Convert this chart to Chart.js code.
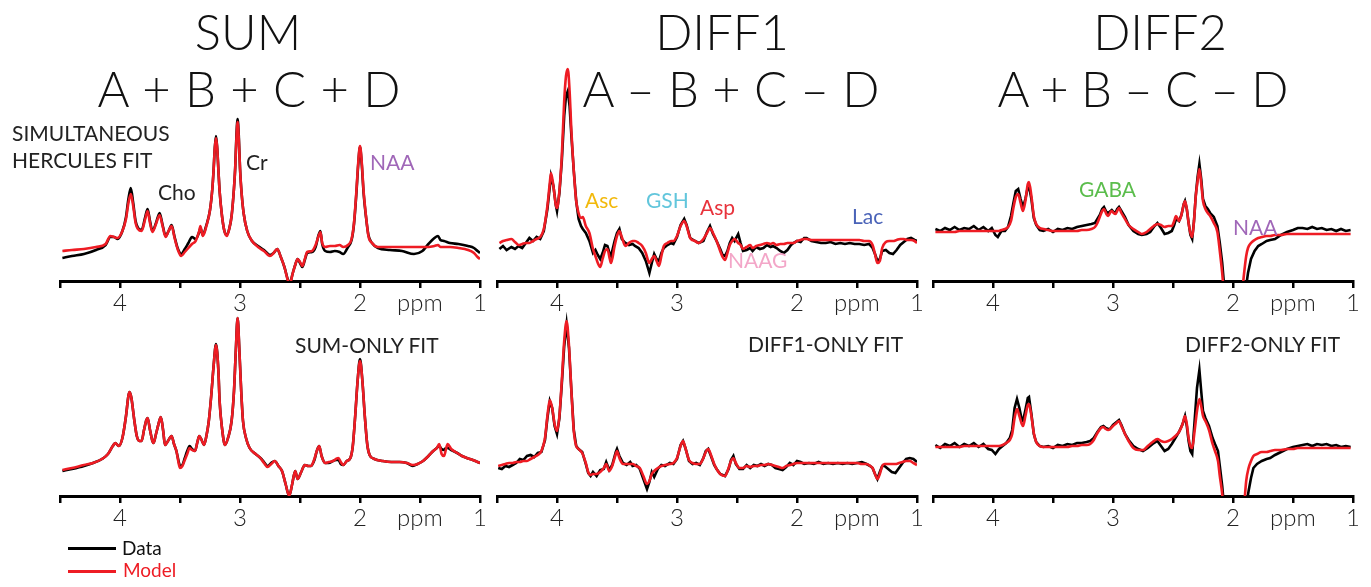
<!DOCTYPE html>
<html>
<head>
<meta charset="utf-8">
<script src="https://cdn.jsdelivr.net/npm/chart.js@4.4.1/dist/chart.umd.min.js"></script>
<style>
  html, body { margin:0; padding:0; background:#fff; overflow:hidden; }
  body { width:1371px; height:587px; position:relative; font-family: Lato, "Open Sans", sans-serif; color:#222; }
  canvas.p { position:absolute; }
  .t { position:absolute; white-space:nowrap; line-height:1; font-size:21px; color:#222; }
  .title { position:absolute; white-space:nowrap; line-height:1; font-size:49px; font-weight:300; color:#111; width:500px; text-align:center; }
  .lg { position:absolute; height:3px; width:48px; }
</style>
</head>
<body>
<canvas class="p" id="c1" width="456" height="282" style="left:40px;top:39px"></canvas>
<canvas class="p" id="c2" width="456" height="282" style="left:477px;top:39px"></canvas>
<canvas class="p" id="c3" width="456" height="282" style="left:913px;top:39px"></canvas>
<canvas class="p" id="c4" width="456" height="240" style="left:40px;top:296px"></canvas>
<canvas class="p" id="c5" width="456" height="240" style="left:477px;top:296px"></canvas>
<canvas class="p" id="c6" width="456" height="240" style="left:913px;top:296px"></canvas>

<div class="title" style="left:-2px;top:7px">SUM</div>
<div class="title" style="left:-1px;top:64px;word-spacing:1px">A + B + C + D</div>
<div class="title" style="left:472px;top:7px">DIFF1</div>
<div class="title" style="left:481px;top:64px;word-spacing:0px">A – B + C – D</div>
<div class="title" style="left:910px;top:7px">DIFF2</div>
<div class="title" style="left:893px;top:64px;word-spacing:-1px">A + B – C – D</div>

<div class="t" style="left:12px;top:122px">SIMULTANEOUS</div>
<div class="t" style="left:12px;top:149px">HERCULES FIT</div>
<div class="t" style="left:158px;top:181px">Cho</div>
<div class="t" style="left:246px;top:151px">Cr</div>
<div class="t" style="left:370px;top:151px;color:#a067b8">NAA</div>
<div class="t" style="left:585px;top:189px;color:#f2b90c">Asc</div>
<div class="t" style="left:646px;top:189px;color:#62c6dc">GSH</div>
<div class="t" style="left:700px;top:196px;color:#e8333c">Asp</div>
<div class="t" style="left:728px;top:249px;color:#f3a6c8">NAAG</div>
<div class="t" style="left:852px;top:205px;color:#4a63b8">Lac</div>
<div class="t" style="left:1079px;top:178px;color:#5bbd4c">GABA</div>
<div class="t" style="left:1233px;top:216px;color:#a067b8">NAA</div>
<div class="t" style="left:295px;top:334px">SUM-ONLY FIT</div>
<div class="t" style="left:748px;top:333px">DIFF1-ONLY FIT</div>
<div class="t" style="left:1185px;top:333px">DIFF2-ONLY FIT</div>

<div class="lg" style="left:68px;top:547px;background:#000"></div>
<div class="t" style="left:122px;top:538px;font-size:19px;color:#111">Data</div>
<div class="lg" style="left:68px;top:570px;background:#ee1c24"></div>
<div class="t" style="left:123px;top:560px;font-size:19px;color:#ee1c24">Model</div>

<script>
// ---------- DATA (heights in arbitrary units above each panel's baseline) ----------
// Panel: SUM, simultaneous HERCULES fit
const sumSimPpm   = [4.48,4.40,4.30,4.20,4.12,4.08,4.05,4.02,3.98,3.95,3.93,3.91,3.89,3.87,3.85,3.82,3.79,3.77,3.75,3.73,3.70,3.67,3.645,3.62,3.595,3.57,3.545,3.52,3.49,3.46,3.43,3.40,3.37,3.34,3.33,3.31,3.28,3.25,3.23,3.22,3.21,3.20,3.19,3.18,3.17,3.15,3.13,3.11,3.09,3.07,3.05,3.04,3.03,3.02,3.01,3.00,2.99,2.97,2.94,2.90,2.85,2.80,2.75,2.72,2.69,2.66,2.63,2.60,2.585,2.56,2.54,2.52,2.50,2.48,2.46,2.44,2.40,2.37,2.345,2.33,2.315,2.29,2.25,2.21,2.17,2.14,2.10,2.07,2.05,2.03,2.015,2.00,1.985,1.97,1.95,1.93,1.90,1.85,1.75,1.65,1.55,1.48,1.43,1.38,1.35,1.33,1.30,1.25,1.18,1.10,1.05,1.02,1.00];
const sumSimModel = [30,31,32,34,37,45,44,43,50,62,78,87,75,58,52,50,62,70,58,49,57,66,55,44,50,55,43,32,25,29,33,37,40,50,55,45,55,71,93,111,133,143,133,111,90,65,50,45,52,65,93,113,142,159,142,113,93,68,50,40,34,30,25,28,32,24,14,0,-3,8,16,22,19,15,22,29,30,36,45,49,38,34,35,35,36,34,36,42,58,90,118,135,118,90,65,45,38,34,34,34,34,34,34,35,36,34,34,34,33,31,28,24,22];
const sumSimData  = [23,25,27,31,36,44,44,42,50,64,82,93,78,60,53,51,64,72,60,50,58,68,56,45,50,56,44,33,27,32,38,44,42,49,53,46,56,71,93,111,133,145,133,111,90,65,50,46,52,65,93,113,145,162,145,113,93,68,50,40,35,31,26,28,32,24,14,1,-2,8,16,22,18,14,21,28,29,34,46,50,37,30,29,30,29,27,34,41,57,88,116,134,116,88,64,46,38,33,31,30,27,30,37,43,45,41,40,38,37,35,33,30,28];

// Panel: DIFF1, simultaneous HERCULES fit
const diff1SimPpm   = [4.48,4.45,4.42,4.38,4.35,4.32,4.29,4.26,4.23,4.20,4.17,4.14,4.11,4.08,4.06,4.05,4.03,4.01,4.00,3.98,3.96,3.94,3.925,3.91,3.895,3.88,3.86,3.84,3.82,3.80,3.785,3.76,3.73,3.70,3.68,3.66,3.64,3.62,3.60,3.58,3.56,3.55,3.52,3.50,3.48,3.46,3.43,3.40,3.37,3.35,3.32,3.29,3.26,3.24,3.23,3.21,3.19,3.17,3.15,3.13,3.11,3.08,3.05,3.03,3.00,2.97,2.94,2.92,2.89,2.85,2.82,2.78,2.75,2.725,2.70,2.67,2.64,2.62,2.60,2.58,2.56,2.54,2.52,2.49,2.47,2.45,2.42,2.39,2.37,2.34,2.31,2.28,2.25,2.22,2.20,2.17,2.14,2.11,2.08,2.05,2.03,2.00,1.97,1.94,1.92,1.88,1.84,1.80,1.76,1.72,1.68,1.64,1.60,1.56,1.52,1.48,1.44,1.40,1.37,1.35,1.33,1.31,1.29,1.26,1.23,1.20,1.17,1.14,1.11,1.08,1.05,1.02,1.00];
const diff1SimModel = [38,40,41,42,39,36,37,38,38,40,42,44,52,75,98,108,95,76,73,90,125,180,205,212,190,150,110,80,68,63,64,55,48,32,25,18,14,22,30,32,22,18,35,45,50,44,35,38,40,40,38,35,28,20,18,22,25,20,15,25,35,38,40,40,45,55,60,55,43,40,38,42,48,53,48,40,30,24,21,28,36,40,42,38,36,32,34,36,33,35,36,37,38,37,38,36,37,37,38,38,38,40,41,42,42,41,41,41,41,41,41,41,41,41,41,41,40,40,36,27,18,20,33,39,40,40,41,42,42,41,41,40,38];
const diff1SimData  = [32,35,31,34,32,35,33,38,43,40,44,42,50,72,94,105,95,76,70,88,120,165,185,190,175,145,110,80,62,55,52,48,40,28,31,26,22,28,36,35,27,25,40,48,52,42,38,36,37,35,33,28,20,12,8,18,27,22,20,28,33,36,38,37,44,56,62,56,43,40,38,40,49,55,47,40,32,26,25,30,38,43,40,47,38,30,31,33,30,34,32,33,36,34,35,33,30,28,31,36,38,40,39,43,43,40,39,38,38,39,37,38,37,38,37,37,36,37,33,27,20,22,30,31,28,27,31,36,39,42,43,41,40];

// Panel: DIFF2, simultaneous HERCULES fit
const diff2SimPpm   = [4.48,4.44,4.40,4.36,4.32,4.28,4.24,4.20,4.16,4.12,4.08,4.04,4.01,3.98,3.96,3.93,3.90,3.875,3.85,3.83,3.81,3.79,3.77,3.75,3.73,3.71,3.70,3.68,3.66,3.64,3.61,3.58,3.54,3.50,3.46,3.42,3.38,3.34,3.30,3.26,3.22,3.18,3.15,3.13,3.11,3.09,3.075,3.055,3.04,3.02,3.01,2.995,2.98,2.965,2.95,2.93,2.90,2.87,2.83,2.79,2.76,2.72,2.69,2.66,2.63,2.60,2.57,2.54,2.51,2.49,2.475,2.46,2.45,2.43,2.41,2.40,2.385,2.37,2.355,2.34,2.325,2.31,2.295,2.28,2.265,2.25,2.23,2.21,2.19,2.16,2.13,2.11,2.09,2.07,2.04,2.00,1.96,1.93,1.91,1.89,1.875,1.85,1.82,1.79,1.76,1.72,1.69,1.65,1.60,1.55,1.50,1.46,1.42,1.38,1.34,1.30,1.26,1.22,1.18,1.14,1.10,1.06,1.02];
const diff2SimModel = [49,49,49,49,49,50,50,50,50,50,50,50,50,50,50,51,52,54,60,73,84,87,78,70,80,97,99,85,65,57,53,52,51,50,50,50,50,50,50,51,51,52,54,58,64,70,72,67,65,69,70,68,67,70,73,68,62,56,52,49,47,49,52,55,57,56,54,55,55,60,65,62,60,66,77,80,72,58,48,44,60,85,100,112,98,80,72,68,65,58,49,30,8,-20,-70,-100,-60,-20,5,25,33,38,41,43,44,45,45,46,46,47,47,47,47,47,47,47,47,47,47,47,47,47,47];
const diff2SimData  = [52,50,53,51,54,51,53,52,55,51,54,50,53,46,44,50,50,54,65,78,90,92,82,74,82,94,95,82,63,56,51,50,52,49,52,51,53,52,54,55,56,57,58,62,66,72,74,69,68,70,71,69,68,72,74,70,64,56,50,47,46,47,49,54,58,53,47,48,50,56,62,61,60,66,77,80,72,58,46,42,60,86,104,117,102,82,75,72,68,64,55,38,18,-10,-60,-100,-80,-60,-30,-5,8,22,30,35,37,40,41,42,46,49,51,53,53,52,54,52,53,51,52,50,52,50,51];

// Panel: SUM-only fit
const sumOnlyPpm   = [4.48,4.40,4.30,4.225,4.15,4.10,4.06,4.04,4.01,3.98,3.95,3.93,3.92,3.905,3.88,3.86,3.84,3.82,3.80,3.78,3.77,3.75,3.73,3.72,3.70,3.67,3.66,3.64,3.625,3.60,3.57,3.55,3.53,3.51,3.50,3.48,3.46,3.44,3.42,3.40,3.375,3.355,3.34,3.32,3.30,3.28,3.26,3.24,3.22,3.20,3.18,3.17,3.15,3.125,3.10,3.07,3.05,3.035,3.02,3.005,2.99,2.975,2.95,2.92,2.87,2.83,2.80,2.77,2.74,2.71,2.68,2.65,2.62,2.59,2.565,2.54,2.52,2.49,2.46,2.43,2.41,2.38,2.36,2.34,2.32,2.29,2.26,2.225,2.20,2.18,2.16,2.14,2.11,2.08,2.06,2.04,2.02,2.00,1.98,1.96,1.94,1.92,1.88,1.81,1.74,1.67,1.61,1.56,1.52,1.475,1.43,1.39,1.36,1.34,1.32,1.30,1.285,1.27,1.24,1.19,1.15,1.11,1.06,1.02,1.00];
const sumOnlyModel = [26,28,31,33,37,42,50,53,50,58,80,100,104,98,75,60,55,55,66,76,78,66,55,53,62,76,79,65,51,55,60,52,45,32,28,30,36,42,48,46,45,54,60,56,51,60,75,100,130,151,125,95,68,51,58,75,105,145,178,145,105,75,58,48,42,38,33,29,32,35,30,25,12,0,12,25,17,24,31,30,30,37,45,50,40,33,34,35,37,38,34,31,35,38,50,80,115,135,115,80,52,41,37,35,34,34,33,31,32,35,40,45,48,52,42,40,46,52,47,43,40,38,36,34,33];
const sumOnlyData  = [25,27,30,33,37,42,50,53,50,58,80,100,104,98,75,60,55,55,66,76,78,66,55,53,62,76,79,65,51,55,60,52,45,34,30,31,38,45,50,47,45,54,60,56,51,60,75,100,130,152,125,95,68,51,58,75,105,145,178,145,105,75,58,48,42,38,34,30,33,35,30,25,12,0,12,25,17,24,31,30,30,36,45,50,40,33,33,35,36,36,32,31,35,38,50,80,115,137,115,80,52,41,37,35,34,34,33,30,32,35,40,45,48,50,47,46,48,48,46,43,40,38,36,34,33];

// Panel: DIFF1-only fit
const diff1OnlyPpm   = [4.49,4.46,4.43,4.40,4.37,4.34,4.31,4.28,4.25,4.22,4.19,4.16,4.13,4.10,4.08,4.06,4.04,4.02,4.00,3.98,3.96,3.94,3.92,3.90,3.88,3.86,3.84,3.82,3.79,3.76,3.74,3.72,3.70,3.67,3.64,3.61,3.59,3.565,3.54,3.51,3.50,3.48,3.45,3.42,3.39,3.37,3.34,3.31,3.28,3.25,3.23,3.21,3.19,3.16,3.13,3.10,3.06,3.03,3.00,2.97,2.95,2.93,2.90,2.87,2.84,2.81,2.78,2.76,2.74,2.72,2.69,2.67,2.64,2.60,2.57,2.55,2.53,2.51,2.48,2.45,2.42,2.39,2.36,2.33,2.30,2.27,2.24,2.21,2.18,2.15,2.12,2.09,2.06,2.03,2.00,1.97,1.94,1.90,1.86,1.82,1.78,1.74,1.70,1.66,1.62,1.58,1.54,1.50,1.46,1.42,1.39,1.37,1.35,1.33,1.31,1.29,1.27,1.24,1.21,1.18,1.15,1.12,1.09,1.06,1.03,1.00];
const diff1OnlyModel = [30,31,32,33,33,34,34,35,35,37,39,41,45,58,80,96,88,72,65,80,115,155,175,150,105,65,50,47,43,33,24,21,22,22,24,28,32,25,30,42,45,38,32,32,32,32,30,28,20,12,15,22,25,28,30,31,32,33,38,50,55,48,36,33,32,32,38,44,47,42,32,27,22,20,28,35,38,33,28,28,30,29,30,30,31,31,32,31,30,29,28,30,31,32,33,33,33,33,33,33,33,33,33,33,33,33,33,33,32,32,30,28,22,17,22,30,32,32,32,32,33,34,35,35,33,31];
const diff1OnlyData  = [28,27,30,29,31,33,37,36,40,41,39,43,44,56,78,95,88,70,62,78,112,150,172,148,105,66,50,47,44,32,23,20,24,20,26,27,34,26,31,44,47,40,33,31,34,30,31,27,17,7,14,24,19,27,31,30,33,32,37,51,55,48,35,32,33,31,38,45,47,41,31,27,22,20,27,36,40,32,27,27,31,28,31,30,32,30,32,31,28,27,26,29,33,31,35,34,32,33,32,34,32,33,32,33,32,33,32,33,34,32,30,28,22,17,24,30,30,27,24,23,28,33,37,38,37,34];

// Panel: DIFF2-only fit
const diff2OnlyPpm   = [4.48,4.44,4.40,4.36,4.32,4.28,4.24,4.20,4.16,4.12,4.08,4.04,4.01,3.98,3.95,3.92,3.89,3.86,3.84,3.82,3.80,3.78,3.76,3.75,3.73,3.71,3.70,3.68,3.66,3.64,3.61,3.58,3.54,3.50,3.46,3.42,3.38,3.34,3.30,3.26,3.22,3.19,3.16,3.13,3.10,3.08,3.06,3.04,3.025,3.00,2.97,2.95,2.93,2.90,2.87,2.83,2.79,2.75,2.71,2.67,2.63,2.60,2.57,2.54,2.51,2.48,2.45,2.42,2.40,2.385,2.37,2.355,2.34,2.32,2.30,2.28,2.265,2.25,2.23,2.20,2.17,2.15,2.125,2.11,2.09,2.06,2.02,1.98,1.94,1.91,1.89,1.87,1.85,1.83,1.80,1.76,1.72,1.69,1.65,1.60,1.55,1.50,1.46,1.42,1.38,1.34,1.30,1.26,1.22,1.18,1.14,1.10,1.06,1.02];
const diff2OnlyModel = [49,49,49,49,49,49,50,50,50,50,50,50,50,50,50,51,53,56,62,78,87,80,72,70,80,91,92,80,63,54,50,49,49,49,49,49,49,50,50,51,51,52,56,63,68,69,67,66,67,70,73,75,70,62,55,48,46,46,50,54,57,55,54,55,57,60,64,72,80,72,58,50,48,65,85,97,90,80,75,66,52,45,35,20,2,-40,-90,-100,-60,-15,15,28,35,40,42,44,44,45,46,46,47,47,48,48,48,48,48,48,48,48,48,48,48,48];
const diff2OnlyData  = [51,48,52,50,53,49,52,50,53,49,52,47,46,42,47,50,53,58,66,88,97,88,76,75,86,98,99,82,62,54,50,49,50,48,51,50,52,51,53,53,54,55,58,64,69,70,68,67,67,71,74,76,71,62,56,50,47,45,48,52,55,50,45,47,52,58,64,72,80,70,55,45,42,75,108,126,105,85,78,70,58,52,45,30,10,-30,-80,-100,-80,-40,-10,5,18,28,32,35,37,38,41,44,47,49,50,51,52,50,52,51,52,50,51,49,50,49];

// x-axis tick labels
const tickLabels = { '4': '4', '3': '3', '2': '2', '1.5': 'ppm', '1': '1' };

// ---------- CHARTS ----------
function pts(xs, ys) { return xs.map((x, i) => ({ x: x, y: ys[i] })); }

function makePanel(id, ppm, model, data, yMax, jagged) {
  const ctx = document.getElementById(id);
  const dataSet = { label: 'Data', data: pts(ppm, data), borderColor: '#000', borderWidth: 2.6,
                    pointRadius: 0, order: 1 };
  if (jagged) { dataSet.tension = 0; } else { dataSet.cubicInterpolationMode = 'monotone'; }
  return new Chart(ctx, {
    type: 'line',
    data: {
      datasets: [
        { label: 'Model', data: pts(ppm, model), borderColor: '#ee1c24', borderWidth: 2.6,
          pointRadius: 0, cubicInterpolationMode: 'monotone', order: 0 },
        dataSet
      ]
    },
    options: {
      responsive: false,
      animation: false,
      devicePixelRatio: 1,
      layout: { padding: { left: 20, right: 16, top: 0, bottom: 0 } },
      plugins: { legend: { display: false }, tooltip: { enabled: false } },
      scales: {
        x: {
          type: 'linear', reverse: true, min: 1, max: 4.5,
          afterFit: (s) => { s.height = 40; },
          border: { display: true, color: '#000', width: 3 },
          grid: { display: true, drawOnChartArea: false, drawTicks: true, tickLength: 7, color: '#000', lineWidth: 2.5 },
          ticks: {
            stepSize: 0.5, autoSkip: false, maxRotation: 0, padding: 1, color: '#222',
            font: { family: 'Lato', size: 24, weight: 300 },
            callback: (v) => tickLabels[String(v)] || ''
          }
        },
        y: { display: false, min: 0, max: yMax }
      }
    }
  });
}

makePanel('c1', sumSimPpm, sumSimModel, sumSimData, 242, false);
makePanel('c2', diff1SimPpm, diff1SimModel, diff1SimData, 242, true);
makePanel('c3', diff2SimPpm, diff2SimModel, diff2SimData, 242, true);
makePanel('c4', sumOnlyPpm, sumOnlyModel, sumOnlyData, 200, false);
makePanel('c5', diff1OnlyPpm, diff1OnlyModel, diff1OnlyData, 200, true);
makePanel('c6', diff2OnlyPpm, diff2OnlyModel, diff2OnlyData, 200, true);
</script>
</body>
</html>
